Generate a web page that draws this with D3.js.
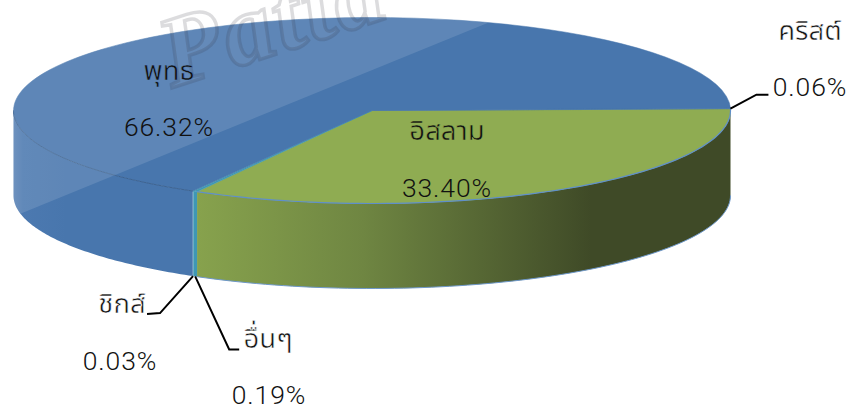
<!DOCTYPE html>
<html>
<head>
<meta charset="utf-8">
<script src="https://cdn.jsdelivr.net/npm/d3@7"></script>
<style>
  html, body { margin: 0; padding: 0; background: #fff; }
  svg { display: block; }
  text { fill: #111; text-anchor: middle; }
  .name { font-family: "Noto Sans", "Noto Sans Thai", sans-serif; font-weight: 400; font-size: 27.5px; stroke-width: 0.55px; }
  .value { font-family: Roboto, sans-serif; font-weight: 300; font-size: 26.5px; letter-spacing: 0.9px; }
</style>
</head>
<body>
<svg id="chart" width="848" height="407"></svg>
<script>
const religions = ['อิสลาม', 'อื่นๆ', 'ชิกส์', 'พุทธ', 'คริสต์']
const shares = [33.40, 0.19, 0.03, 66.32, 0.06]
const shareLabels = ['33.40%', '0.19%', '0.03%', '66.32%', '0.06%']
const sliceColors = ['#8fac52', '#3f97b5', '#4a9cb0', '#4876ad', '#4876ad']
const wallColors = ['url(#greenWall)', '#3f97b5', '#4a9cb0', 'url(#blueWall)', '#4876ad']

const cx = 372
const cy = 110.5
const rx = 358.5
const ry = 93
const depth = 85

const svg = d3.select('#chart')
const defs = svg.append('defs')

const rimX = (a) => cx + rx * Math.sin(a)
const rimY = (a) => cy - ry * Math.cos(a)

// start near 3 o'clock, keep given order
const start = Math.PI / 2 - 0.018
const slices = d3
  .pie()
  .value((d) => d)
  .sort(null)
  .startAngle(start)
  .endAngle(start + 2 * Math.PI)(shares)

function addGradient(id, x1, x2, stops) {
  const grad = defs
    .append('linearGradient')
    .attr('id', id)
    .attr('gradientUnits', 'userSpaceOnUse')
    .attr('x1', x1)
    .attr('x2', x2)
    .attr('y1', 0)
    .attr('y2', 0)
  stops.forEach(([o, c]) => grad.append('stop').attr('offset', o).attr('stop-color', c))
}
addGradient('greenWall', 197, 730, [[0, '#87a24d'], [0.31, '#6f8642'], [0.74, '#3f4a27'], [1, '#3f4a27']])
addGradient('blueWall', 12, 193, [[0, '#5c84b6'], [0.06, '#4c79b0'], [0.3, '#4876ad'], [1, '#4876ad']])

const rimAngles = (a0, a1) => d3.range(0, 81).map((k) => a0 + ((a1 - a0) * k) / 80)
const wallArea = d3
  .area()
  .x((a) => rimX(a))
  .y0((a) => rimY(a))
  .y1((a) => rimY(a) + depth)
const rimLine = d3
  .line()
  .x((a) => rimX(a))
  .y((a) => rimY(a))

// walls, only the front half of the rim shows
const wallPaths = slices.map((s) => {
  const a0 = Math.max(s.startAngle, Math.PI / 2)
  const a1 = Math.min(s.endAngle, 1.5 * Math.PI)
  return a1 > a0 ? wallArea(rimAngles(a0, a1)) : null
})
slices.forEach((s, i) => {
  if (!wallPaths[i]) return
  svg.append('path').attr('fill', wallColors[i]).attr('d', wallPaths[i])
})

// thin blue edge under the green wall
svg
  .append('path')
  .attr('fill', 'none')
  .attr('stroke', '#6d97c9')
  .attr('stroke-width', 1)
  .attr('d', d3.line()
    .x((a) => rimX(a))
    .y((a) => rimY(a) + depth)(rimAngles(Math.PI / 2, slices[0].endAngle)))

// top face
const arc = d3.arc().innerRadius(0).outerRadius(1)
svg
  .append('g')
  .attr('transform', `translate(${cx},${cy}) scale(${rx},${ry})`)
  .selectAll('path')
  .data(slices)
  .join('path')
  .attr('d', arc)
  .attr('fill', (d, i) => sliceColors[i])
  .attr('stroke', (d, i) => sliceColors[i])
  .attr('stroke-width', 0.5)
  .attr('vector-effect', 'non-scaling-stroke')

// rim lines
svg
  .append('path')
  .attr('fill', 'none')
  .attr('stroke', '#5f8fca')
  .attr('stroke-width', 1.2)
  .attr('d', rimLine(rimAngles(slices[0].startAngle, slices[0].endAngle)))
svg
  .append('path')
  .attr('fill', 'none')
  .attr('stroke', '#3d6391')
  .attr('stroke-width', 1)
  .attr('d', rimLine(rimAngles(slices[3].startAngle, 1.5 * Math.PI)))

// gloss band on the blue part
const clip = defs.append('clipPath').attr('id', 'blueClip')
clip.append('path').attr('d', wallPaths[3])
clip
  .append('path')
  .attr('transform', `translate(${cx},${cy}) scale(${rx},${ry})`)
  .attr('d', arc({ startAngle: 0, endAngle: 2 * Math.PI }))
svg
  .append('path')
  .attr('clip-path', 'url(#blueClip)')
  .attr('fill', '#fff')
  .attr('fill-opacity', 0.12)
  .attr('d', d3.line()([[0, 222], [490, 22], [490, 0], [0, 0]]))

// watermark, runs off the top like the original
svg
  .append('text')
  .attr('transform', 'translate(172,88) rotate(-18)')
  .attr('font-family', '"Liberation Serif", serif')
  .attr('font-style', 'italic')
  .attr('font-weight', 700)
  .attr('font-size', 100)
  .attr('letter-spacing', 3)
  .style('text-anchor', 'start')
  .style('fill', 'rgba(255,255,255,0.04)')
  .style('stroke', 'rgba(50,50,60,0.17)')
  .style('stroke-width', 3.5)
  .text('Patta')

// leaders, from the slice's rim point out to its label
const midAngle = (s) => (s.startAngle + s.endAngle) / 2
const leaderOffsets = {
  1: [[34, 73], [44, 73]],
  2: [[-33, 37], [-46, 38]],
  4: [[26, -14], [38, -14]],
}
Object.keys(leaderOffsets).forEach((i) => {
  const a = midAngle(slices[i])
  const x0 = rimX(a)
  const y0 = rimY(a) + (i == 4 ? 0 : depth)
  const pts = [[x0, y0]].concat(leaderOffsets[i].map(([dx, dy]) => [x0 + dx, y0 + dy]))
  svg
    .append('path')
    .attr('fill', 'none')
    .attr('stroke', '#000')
    .attr('stroke-width', 2)
    .attr('d', d3.line()(pts))
})

// labels, a stroke in the backing colour thins the heavy Thai glyphs
const nameX = [447, 268, 122, 169, 810]
const nameY = [140, 348, 313, 80, 40]
const nameBacking = ['#8fac52', '#fff', '#fff', '#5e86b7', '#fff']
const valueX = [447, 269, 120, 169, 810]
const valueY = [197, 404, 370, 136, 96]
religions.forEach((r, i) => {
  svg.append('text').attr('class', 'name').attr('x', nameX[i]).attr('y', nameY[i]).style('stroke', nameBacking[i]).text(r)
  svg.append('text').attr('class', 'value').attr('x', valueX[i]).attr('y', valueY[i]).text(shareLabels[i])
})
</script>
</body>
</html>
